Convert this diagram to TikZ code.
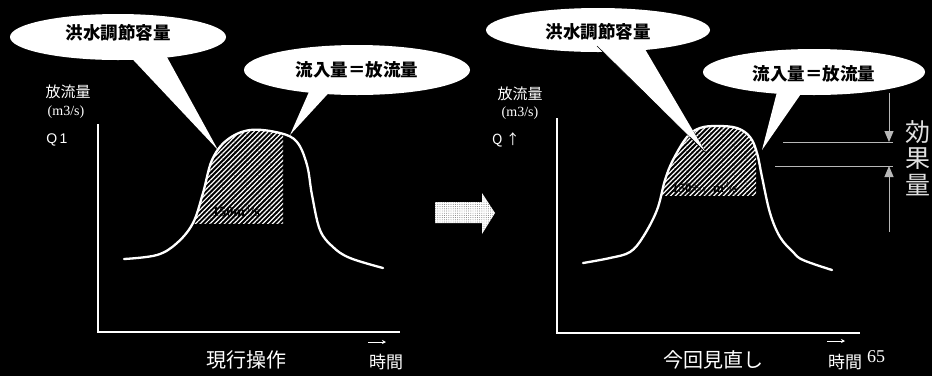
\documentclass[tikz,border=0pt]{standalone}
\usepackage{fontspec}
\setmainfont{Liberation Serif}
\setsansfont{Liberation Sans}
\newfontfamily\jp{Noto Sans CJK JP}
\usetikzlibrary{shapes.geometric,arrows.meta,patterns.meta}
\tikzset{
  bubble/.style={ellipse, fill=white, inner sep=0pt},
  bubtext/.style={text=black, inner sep=0pt, font=\jp\bfseries\fontsize{17.5}{18}\selectfont},
  tail/.style={fill=white, draw=black, line width=0.6pt, line join=round},
  lbl/.style={text=white, inner sep=0pt},
  curve/.style={white, line width=2.3pt, line cap=round},
  axis/.style={white, line width=1.5pt},
  hatch/.style={pattern={Lines[angle=45,distance=3.4pt,line width=1.2pt]}, pattern color=white},
  meas/.style={white!72!black, line width=1pt},
  mtip/.style={-{Triangle[width=9pt,length=11pt]}},
  tarrow/.style={white, line width=0.8pt, -{Stealth[length=4pt,width=4pt]}}
}
\begin{document}
\begin{tikzpicture}[x=1pt,y=-1pt]
\fill[black] (0,0) rectangle (932,376);
\useasboundingbox (0,0) rectangle (932,376);

% ---------- left panel ----------
\begin{scope}
\clip plot[smooth,tension=0.6] coordinates {(124,259) (157,255) (177,243) (193,223) (203,193) (212,160) (227,140) (250,130) (280,133) (297,142) (307,165) (312,195) (320,230) (333,247) (350,258) (383,268)} -- (383,400) -- (124,400) -- cycle;
\fill[hatch] (180,115) rectangle (283,223);
\end{scope}
\draw[curve] plot[smooth,tension=0.6] coordinates {(124,259) (157,255) (177,243) (193,223) (203,193) (212,160) (227,140) (250,130) (280,133) (297,142) (307,165) (312,195) (320,230) (333,247) (350,258) (383,268)};
\node[lbl, text=black, font=\bfseries\fontsize{14}{14}\selectfont] (v1) at (236,211) {150m$^3$/s};

\coordinate (yt1) at (98,124);
\coordinate (o1) at (98,332);
\coordinate (xe1) at (400,332);
\draw[axis] (yt1) -- (o1) -- (xe1);

\node[lbl, font=\jp\fontsize{15}{15}\selectfont] (ql1) at (68,92) {放流量};
\node[lbl, font=\fontsize{14}{14}\selectfont] (u1) at (66,112) {(m3/s)};
\node[lbl, font=\sffamily\fontsize{14}{14}\selectfont] (q1) at (57,140) {Q\,1};

% callouts left
\node[bubble, minimum width=216pt, minimum height=46pt] (b1) at (118,37) {};
\fill[white] (122,48) -- (218,150) -- (162,48) -- cycle;
\node[bubtext] (t1) at (118,33) {洪水調節容量};
\node[bubble, minimum width=226pt, minimum height=50pt] (b2) at (357,70) {};
\fill[white] (312,85) -- (290,135) -- (336,85) -- cycle;
\node[bubtext] (t2) at (357,70) {流入量＝放流量};

\node[lbl, font=\jp\fontsize{20}{20}\selectfont] (op1) at (246,360) {現行操作};
\coordinate (ta1) at (368,342);
\coordinate (tb1) at (386,342);
\draw[tarrow] (ta1) -- (tb1);
\node[lbl, font=\jp\fontsize{17}{17}\selectfont] (ti1) at (386,362) {時間};

% ---------- middle arrow ----------
\fill[white] (435,202) -- (482,202) -- (482,193) -- (495,213) -- (482,234) -- (482,223) -- (435,223) -- cycle;
\fill[pattern={Dots[distance=2.2pt,radius=0.45pt]}, pattern color=black!60] (435,202) -- (482,202) -- (482,193) -- (495,213) -- (482,234) -- (482,223) -- (435,223) -- cycle;

% ---------- right panel ----------
\begin{scope}
\clip plot[smooth,tension=0.6] coordinates {(583,263) (610,258) (630,252) (643,237) (657,210) (665,180) (673,160) (687,137) (700,128) (717,126) (737,128) (750,137) (757,153) (762,177) (770,213) (780,237) (793,252) (803,260) (832,270)} -- (832,400) -- (583,400) -- cycle;
\fill[hatch] (640,115) rectangle (756,195);
\end{scope}
\draw[curve] plot[smooth,tension=0.6] coordinates {(583,263) (610,258) (630,252) (643,237) (657,210) (665,180) (673,160) (687,137) (700,128) (717,126) (737,128) (750,137) (757,153) (762,177) (770,213) (780,237) (793,252) (803,260) (832,270)};
\node[lbl, text=black, font=\bfseries\fontsize{13}{13}\selectfont] (v2) at (705,187) {150+$\alpha$\ \ m$^3$/s};

\coordinate (yt2) at (557,118);
\coordinate (o2) at (557,333);
\coordinate (xe2) at (860,333);
\draw[axis] (yt2) -- (o2) -- (xe2);

\node[lbl, font=\jp\fontsize{15}{15}\selectfont] (ql2) at (520,94) {放流量};
\node[lbl, font=\fontsize{14}{14}\selectfont] (u2) at (520,113) {(m3/s)};
\node[lbl, font=\jp\fontsize{14}{14}\selectfont] (q2) at (506,140) {Q ↑};

% callouts right
\node[bubble, minimum width=224pt, minimum height=44pt] (b3) at (598,30) {};
\filldraw[tail] (597,46) -- (706,153) -- (642,46);
\fill[white] (597,44) -- (706,153) -- (642,44) -- cycle;
\draw[black, line width=0.6pt] (690,137) -- (706,153);
\node[bubtext] (t3) at (598,32) {洪水調節容量};
\node[bubble, minimum width=222pt, minimum height=46pt] (b4) at (814,72) {};
\fill[white] (778,88) -- (762,150) -- (805,88) -- cycle;
\node[bubtext] (t4) at (814,74) {流入量＝放流量};

% effect measure
\coordinate (ma) at (889,93);
\coordinate (mb) at (889,142);
\coordinate (mc) at (889,232);
\coordinate (md) at (889,166);
\coordinate (h1a) at (783,142);
\coordinate (h1b) at (893,142);
\coordinate (h2a) at (775,166);
\coordinate (h2b) at (893,166);
\draw[meas] (h1a) -- (h1b);
\draw[meas] (h2a) -- (h2b);
\draw[meas, mtip] (ma) -- (mb);
\draw[meas, mtip] (mc) -- (md);
\node[lbl, text=white!88!black, align=center, font=\jp\fontsize{25}{26.5}\selectfont] (eff) at (918,158) {効\\果\\量};

\node[lbl, font=\jp\fontsize{20}{20}\selectfont] (op2) at (713,360) {今回見直し};
\coordinate (ta2) at (827,341);
\coordinate (tb2) at (845,341);
\draw[tarrow] (ta2) -- (tb2);
\node[lbl, font=\jp\fontsize{17}{17}\selectfont] (ti2) at (845,362) {時間};
\node[lbl, font=\fontsize{18}{18}\selectfont] (pg) at (876,357) {65};
\end{tikzpicture}
\end{document}
